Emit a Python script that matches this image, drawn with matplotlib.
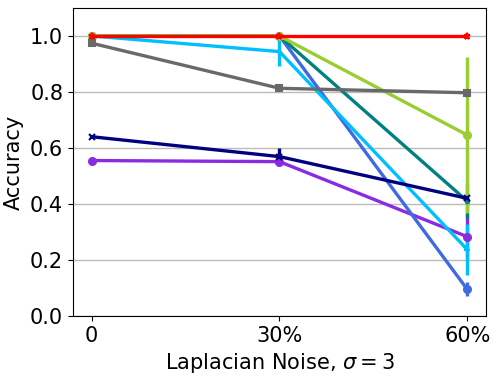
import numpy as np
import matplotlib
matplotlib.use("Agg")
import matplotlib.pyplot as plt

x_labels = ["0", "30%", "60%"]

purple_acc = [0.555, 0.551, 0.283]
purple_err = [0.0, 0.0, 0.08]
royal_acc = [1.0, 1.0, 0.095]
royal_err = [0.0, 0.0, 0.025]
sky_acc = [1.0, 0.944, 0.237]
sky_err = [0.0, 0.05, 0.09]
teal_acc = [1.0, 1.0, 0.41]
teal_err = [0.0, 0.0, 0.06]
green_acc = [1.0, 1.0, 0.646]
green_err = [0.0, 0.0, 0.28]
navy_acc = [0.64, 0.569, 0.42]
navy_err = [0.0, 0.03, 0.0]
gray_acc = [0.974, 0.813, 0.797]
gray_err = [0.0, 0.0, 0.0]
red_acc = [1.0, 1.0, 1.0]
red_err = [0.0, 0.0, 0.0]

series = [
    (purple_acc, purple_err, "blueviolet", "o"),
    (royal_acc, royal_err, "royalblue", "o"),
    (sky_acc, sky_err, "deepskyblue", "+"),
    (teal_acc, teal_err, "teal", "."),
    (green_acc, green_err, "yellowgreen", "o"),
    (navy_acc, navy_err, "navy", "x"),
    (gray_acc, gray_err, "dimgray", "s"),
    (red_acc, red_err, "red", "*"),
]

fig = plt.figure(figsize=(4.99, 3.77), dpi=100)
ax = fig.add_axes([0.146, 0.162, 0.828, 0.817])

xs = np.arange(len(x_labels))
for acc, err, col, mk in series:
    ax.errorbar(xs, acc, yerr=err, color=col, marker=mk, linewidth=2.4,
                elinewidth=2.4, markersize=5, markeredgewidth=1.5, capsize=0)

ax.set_xticks(xs)
ax.set_xticklabels(x_labels)
ax.set_xlim(-0.1, 2.1)
ax.set_ylim(0.0, 1.1)
ax.set_yticks([0.0, 0.2, 0.4, 0.6, 0.8, 1.0])
ax.yaxis.grid(True, color="#bbbbbb", linewidth=1)
ax.set_axisbelow(True)
ax.tick_params(labelsize=15)
ax.set_xlabel(r"Laplacian Noise, $\sigma=3$", fontsize=15)
ax.set_ylabel("Accuracy", fontsize=15)

fig.savefig("out.png", dpi=100)
